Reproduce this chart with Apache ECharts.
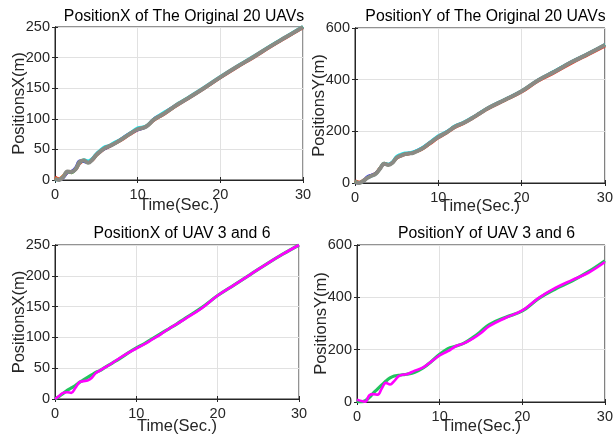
<!DOCTYPE html>
<html>
<head>
<meta charset="utf-8">
<script src="https://cdn.jsdelivr.net/npm/echarts@6/dist/echarts.min.js"></script>
<style>
  html, body { margin: 0; padding: 0; background: #fff; }
  #chart { width: 616px; height: 439px; }
</style>
</head>
<body>
<div id="chart"></div>
<script>
// Time samples (seconds)
var timeTop = [0,0.5,1,1.5,2,2.5,3,3.5,4,4.5,5,5.5,6,6.5,7,8,9,10,11,12,13,14,15,16,18,20,22,24,26,28,30];
var timeBottom = [0,0.5,1,1.5,2,2.5,3,3.5,4,4.5,5,5.5,6,7,8,9,10,11,12,13,14,15,16,18,20,22,24,26,28,30];

// Position X of the original swarm (a few representative UAVs, the grey one drawn last)
var posXRed    = [5,2,6,12,14,17,27,31,30,32,40,46,51,54,58,65,74,82,87,98,106,115,124,132,149,167,184,200,217,233,249];
var posXOrange = [3,1,7,13,12,19,29,33,29,33,41,48,52,55,59,66,75,83,88,99,107,116,125,133,150,168,185,201,218,234,250];
var posXBlue   = [1,0,4,12,14,20,31,30,29,34,42,47,51,55,58,67,76,82,87,100,108,117,125,133,150,168,185,201,218,234,250];
var posXCyan   = [0,1,5,13,13,18,28,33,31,35,43,49,54,56,60,67,76,85,88,100,109,117,126,134,151,169,186,202,219,235,251];
var posXGreen  = [2,0,5,14,12,18,30,32,28,33,41,47,52,55,58,66,75,83,87,99,107,116,125,133,150,168,185,201,218,234,250];
var posXGray   = [2,0,5,14,13,18,30,32,28,33,41,47,52,55,58,66,75,83,87,99,107,116,125,133,150,168,185,201,218,234,250];

// Position Y of the original swarm
var posYRed    = [8,3,10,22,30,38,57,73,72,80,96,104,110,113,118,130,152,175,194,215,230,248,268,288,320,352,395,428,464,497,530];
var posYOrange = [6,2,9,21,28,37,58,76,71,79,99,107,112,115,118,133,156,179,197,219,233,251,271,291,323,356,399,433,469,501,535];
var posYBlue   = [2,0,7,24,30,38,56,74,72,80,100,108,113,115,119,134,157,180,198,219,233,251,271,291,323,356,399,433,469,501,535];
var posYCyan   = [4,1,8,20,27,35,56,76,73,82,103,111,116,117,120,135,158,183,199,221,235,252,272,292,324,357,400,434,470,502,536];
var posYGreen  = [5,0,8,20,28,36,55,75,70,78,98,106,112,114,117,132,155,178,196,218,232,250,270,290,322,355,398,432,468,500,534];
var posYGray   = [5,0,8,20,28,36,55,75,70,78,98,106,112,114,117,132,155,178,196,218,232,250,270,290,322,355,398,432,468,500,534];

// UAV 3 and UAV 6
var uav3X = [0,4,9,14,18,22,27,31,35,39,43,46,50,58,66,75,83,90,98,106,114,122,131,148,168,185,202,219,235,250];
var uav6X = [0,5,10,11,10,18,27,29,30,34,42,46,50,58,67,75,82,89,97,105,114,122,130,147,168,185,202,219,235,250];
var uav3Y = [2,0,5,18,35,50,65,80,92,99,102,104,106,114,130,155,182,204,214,226,246,270,296,324,348,396,432,462,498,540];
var uav6Y = [9,4,1,26,30,28,52,73,67,80,98,104,106,120,132,155,178,194,214,225,242,264,290,322,350,398,436,466,494,535];

var titles = ['PositionX of The Original 20 UAVs', 'PositionY of The Original 20 UAVs',
              'PositionX of UAV 3 and 6', 'PositionY of UAV 3 and 6'];
var xName = 'Time(Sec.)';
var yNames = ['PositionsX(m)', 'PositionsY(m)', 'PositionsX(m)', 'PositionsY(m)'];
var xTicks = { min: 0, max: 30, interval: 10 };
var yTicks = [{ min: 0, max: 250, interval: 50 }, { min: 0, max: 600, interval: 200 },
              { min: 0, max: 250, interval: 50 }, { min: 0, max: 600, interval: 200 }];

var FONT = 'Liberation Sans, Arial, Helvetica, sans-serif';
var AX = '#262626';

var grids = [
  { left: 55,  top: 27,  width: 248, height: 153 },
  { left: 355, top: 28,  width: 251, height: 155 },
  { left: 55,  top: 245, width: 244, height: 154 },
  { left: 357, top: 245, width: 249, height: 157 }
];
var titleTops = [4, 4, 221, 221];
var xNameGaps = [17, 15, 19, 16];

function pairs(t, v) {
  return t.map(function (x, i) { return [x, v[i]]; });
}

var option = {
  animation: false,
  backgroundColor: '#fff',
  textStyle: { fontFamily: FONT },
  title: [], grid: [], xAxis: [], yAxis: [], series: []
};

grids.forEach(function (g, i) {
  option.grid.push({
    left: g.left, top: g.top, width: g.width, height: g.height,
    show: true, borderColor: AX, borderWidth: 1, backgroundColor: '#fff'
  });
  option.title.push({
    text: titles[i], left: g.left + g.width / 2, top: titleTops[i], textAlign: 'center',
    textStyle: { fontSize: 15.8, fontWeight: 'normal', color: '#000', fontFamily: FONT }
  });
  // main axes
  option.xAxis.push({
    type: 'value', gridIndex: i, min: xTicks.min, max: xTicks.max, interval: xTicks.interval,
    name: xName, nameLocation: 'middle', nameGap: xNameGaps[i], nameMoveOverlap: false,
    nameTextStyle: { fontSize: 16.5, color: AX, fontFamily: FONT },
    axisLine: { show: true, lineStyle: { color: AX, width: 1 } },
    axisTick: { show: true, inside: true, length: 3, lineStyle: { color: AX } },
    axisLabel: { color: AX, fontSize: 14.5, margin: 7, fontFamily: FONT },
    splitLine: { show: true, lineStyle: { color: '#e1e1e1', width: 1 } }
  });
  option.yAxis.push({
    type: 'value', gridIndex: i, min: yTicks[i].min, max: yTicks[i].max, interval: yTicks[i].interval,
    name: yNames[i], nameLocation: 'middle', nameGap: 27, nameMoveOverlap: false,
    nameTextStyle: { fontSize: 16.5, color: AX, fontFamily: FONT },
    axisLine: { show: true, lineStyle: { color: AX, width: 1 } },
    axisTick: { show: true, inside: true, length: 3, lineStyle: { color: AX } },
    axisLabel: { color: AX, fontSize: 14.5, margin: 5, fontFamily: FONT },
    splitLine: { show: true, lineStyle: { color: '#e1e1e1', width: 1 } }
  });
});

// mirrored tick marks on the top and right edges of each box
grids.forEach(function (g, i) {
  option.xAxis.push({
    type: 'value', gridIndex: i, position: 'top', min: xTicks.min, max: xTicks.max, interval: xTicks.interval,
    axisLine: { show: true, lineStyle: { color: AX } },
    axisTick: { show: true, inside: true, length: 3, lineStyle: { color: AX } },
    axisLabel: { show: false }, splitLine: { show: false }
  });
  option.yAxis.push({
    type: 'value', gridIndex: i, position: 'right', min: yTicks[i].min, max: yTicks[i].max, interval: yTicks[i].interval,
    axisLine: { show: true, lineStyle: { color: AX } },
    axisTick: { show: true, inside: true, length: 3, lineStyle: { color: AX } },
    axisLabel: { show: false }, splitLine: { show: false }
  });
});

function line(idx, t, v, color, width) {
  return {
    type: 'line', xAxisIndex: idx, yAxisIndex: idx, data: pairs(t, v),
    showSymbol: false, smooth: 0.4, silent: true,
    lineStyle: { color: color, width: width }
  };
}

var swarmColors = ['#ff2a1a', '#e8841a', '#2a2aff', '#1ae8f0', '#30c040', '#8a8a84'];
var swarmX = [posXRed, posXOrange, posXBlue, posXCyan, posXGreen, posXGray];
var swarmY = [posYRed, posYOrange, posYBlue, posYCyan, posYGreen, posYGray];
swarmX.forEach(function (v, k) { option.series.push(line(0, timeTop, v, swarmColors[k], k === 5 ? 4 : 3)); });
swarmY.forEach(function (v, k) { option.series.push(line(1, timeTop, v, swarmColors[k], k === 5 ? 4 : 3)); });

option.series.push(line(2, timeBottom, uav3X, '#22c45e', 3.2));
option.series.push(line(2, timeBottom, uav6X, '#ff00ff', 2.6));
option.series.push(line(3, timeBottom, uav3Y, '#22c45e', 3.2));
option.series.push(line(3, timeBottom, uav6Y, '#ff00ff', 2.6));

var chart = echarts.init(document.getElementById('chart'), null, { renderer: 'canvas' });
chart.setOption(option);
</script>
</body>
</html>
